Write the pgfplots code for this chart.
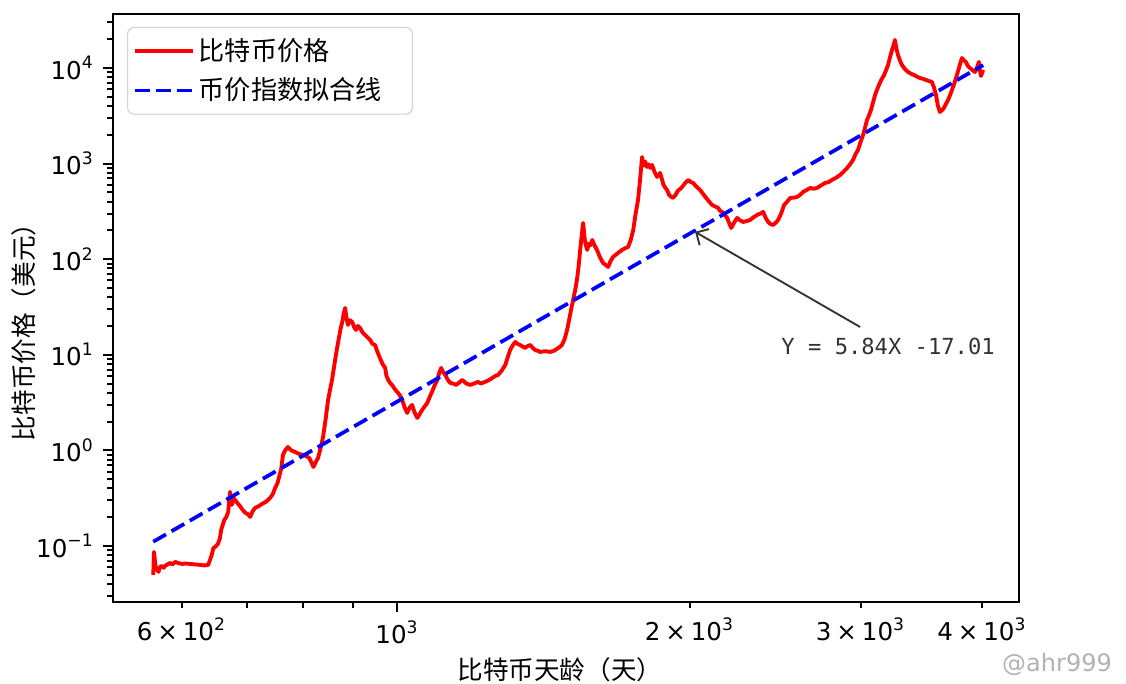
\documentclass[border=0pt]{standalone}
\usepackage{fontspec}
\setmainfont{DejaVu Sans}
\newfontfamily\cjk{Noto Sans CJK SC}
\newfontfamily\mono{DejaVu Sans Mono}
\usepackage{pgfplots}
\pgfplotsset{compat=1.18}
\usetikzlibrary{arrows.meta}

\pgfplotstableread{
x y
561 0.0497
562 0.0865
564 0.0620
565 0.0589
568 0.0535
570 0.0600
572 0.0618
575 0.0590
577 0.0618
580 0.0640
584 0.0664
587 0.0640
591 0.0680
596 0.0660
601 0.0648
606 0.0655
612 0.0648
620 0.0640
627 0.0633
633 0.0625
639 0.0633
644 0.0786
647 0.0953
650 0.0980
654 0.1049
657 0.1200
659 0.1470
662 0.1700
664 0.1871
667 0.2000
670 0.2268
673 0.3672
676 0.2685
679 0.3150
681 0.3029
685 0.2800
689 0.2621
693 0.2400
698 0.2215
702 0.2150
706 0.2011
710 0.2300
714 0.2497
720 0.2600
726 0.2750
733 0.2900
740 0.3177
745 0.3500
749 0.4044
753 0.4500
756 0.5269
760 0.6500
763 0.8953
767 1.000
772 1.085
778 1.000
785 0.9623
792 0.9200
800 0.8953
806 0.8700
812 0.8326
816 0.7500
820 0.6706
825 0.7600
829 0.8326
834 1.050
839 1.381
844 2.100
849 3.367
853 4.300
857 5.450
862 8.000
867 11.50
870 14.00
874 18.17
878 22.00
881 27.00
884 30.87
887 24.00
890 20.50
894 23.00
899 22.03
903 19.50
907 18.17
911 20.00
916 19.07
921 17.20
927 16.11
932 15.20
938 14.28
943 13.00
949 12.66
954 10.80
960 9.26
966 8.000
972 7.275
975 6.000
979 5.450
983 5.100
988 4.832
994 4.400
1000 4.083
1006 3.800
1012 3.367
1018 2.800
1024 2.462
1030 2.800
1036 2.985
1042 2.500
1049 2.182
1055 2.400
1061 2.646
1068 2.900
1074 3.132
1080 3.600
1086 4.083
1093 4.800
1100 5.450
1105 6.500
1110 7.275
1115 6.600
1121 6.147
1127 5.500
1134 5.070
1142 5.000
1150 4.832
1158 5.100
1167 5.450
1178 5.000
1189 4.832
1200 5.000
1211 5.194
1220 5.000
1231 5.194
1242 5.400
1253 5.719
1262 6.000
1270 6.147
1281 6.800
1292 7.819
1300 9.500
1307 11.22
1315 12.50
1323 13.61
1330 13.00
1338 12.66
1346 12.20
1354 11.78
1362 12.30
1371 12.66
1379 11.80
1387 11.22
1395 11.00
1404 10.70
1420 10.90
1437 10.70
1450 11.00
1465 11.78
1472 12.20
1478 12.66
1487 14.50
1496 18.17
1503 23.00
1510 29.42
1518 38.00
1525 47.61
1531 60.00
1536 77.10
1540 100.0
1543 124.8
1549 180.0
1554 239.2
1560 160.0
1564 140.0
1569 124.8
1575 145.0
1581 140.0
1588 158.8
1596 140.0
1606 124.8
1617 105.0
1629 91.26
1639 87.00
1649 82.86
1658 95.00
1668 105.4
1686 115.0
1704 124.8
1716 130.0
1729 134.2
1740 160.0
1750 202.1
1760 300.0
1770 416.0
1779 700.0
1787 1172
1793 950.0
1800 1050
1808 921.3
1815 980.0
1822 900.0
1830 966.9
1840 820.0
1852 724.2
1858 760.0
1865 797.4
1872 700.0
1880 600.0
1888 560.0
1896 529.4
1905 470.0
1914 450.0
1923 436.8
1935 470.0
1945 520.0
1955 540.0
1965 569.1
1978 620.0
1993 673.8
2005 640.0
2017 626.8
2030 580.0
2050 529.4
2065 480.0
2080 436.8
2095 400.0
2109 368.8
2125 355.0
2140 343.3
2150 320.0
2160 311.7
2173 290.0
2186 269.8
2196 240.0
2207 212.1
2222 240.0
2238 269.8
2254 255.0
2270 245.0
2290 250.0
2308 257.0
2328 275.0
2347 290.0
2365 300.0
2381 311.7
2395 270.0
2409 245.0
2424 232.0
2438 227.9
2452 240.0
2467 257.0
2484 300.0
2502 368.8
2520 400.0
2538 436.8
2560 440.0
2580 447.3
2598 470.0
2617 504.6
2640 530.0
2661 555.6
2683 545.0
2705 555.6
2730 590.0
2757 626.8
2780 640.0
2803 673.8
2830 710.0
2857 760.1
2880 820.0
2905 899.5
2925 980.0
2946 1091
2963 1250
2981 1388
3000 1700
3017 1992
3032 2400
3045 2858
3060 3200
3074 3637
3090 4400
3104 5219
3120 6000
3133 6641
3150 7500
3171 8450
3186 9500
3201 10750
3216 13000
3231 15430
3244 17500
3254 19640
3265 16000
3277 13680
3292 12000
3308 10750
3330 9800
3356 9082
3380 8700
3404 8450
3428 8100
3452 7861
3477 7700
3502 7489
3527 7300
3552 7137
3570 6200
3586 5219
3603 4000
3620 3464
3637 3600
3654 3815
3672 4200
3690 4627
3708 5200
3725 5888
3747 7000
3769 8450
3792 10500
3814 12720
3832 12000
3850 11560
3868 10500
3887 10000
3910 9500
3933 9082
3952 10000
3970 11560
3980 9500
3989 8250
4000 8800
4009 9530
}\pricedata

\begin{document}
\begin{tikzpicture}
\path[use as bounding box] (-42.375pt,-30.75pt) rectangle (379.875pt,225.75pt);
\begin{axis}[
  xmode=log, ymode=log,
  scale only axis, width=339.75pt, height=220.5pt,
  xmin=510, xmax=4366, ymin=0.0259, ymax=36700,
  axis line style={line width=0.75pt},
  every tick/.style={black, line width=0.75pt},
  tick align=outside, tick pos=left,
  major tick length=3.6pt, minor tick length=2.2pt,
  xtick={1000}, xticklabels={10\textsuperscript{3}},
  extra x ticks={600,2000,3000,4000},
  extra x tick labels={6\hspace{0.2em}×\hspace{0.2em}10\textsuperscript{2},2\hspace{0.2em}×\hspace{0.2em}10\textsuperscript{3},3\hspace{0.2em}×\hspace{0.2em}10\textsuperscript{3},4\hspace{0.2em}×\hspace{0.2em}10\textsuperscript{3}},
  extra x tick style={major tick length=2.2pt},
  minor xtick={700,800,900},
  ytick={0.1,1,10,100,1000,10000},
  yticklabels={10\textsuperscript{−1},10\textsuperscript{0},10\textsuperscript{1},10\textsuperscript{2},10\textsuperscript{3},10\textsuperscript{4}},
  minor ytick={0.03,0.04,0.05,0.06,0.07,0.08,0.09,0.2,0.3,0.4,0.5,0.6,0.7,0.8,0.9,2,3,4,5,6,7,8,9,20,30,40,50,60,70,80,90,200,300,400,500,600,700,800,900,2000,3000,4000,5000,6000,7000,8000,9000,20000,30000},
  tick label style={font=\fontsize{9.2}{10}\selectfont},
  legend style={at={(0.0155,0.978)}, anchor=north west, draw=black!18, rounded corners=2.5pt,
    fill=white, inner xsep=2pt, inner ysep=2.5pt, row sep=2pt,
    font=\cjk\fontsize{9.8}{11}\selectfont, nodes={inner sep=1.5pt}},
  legend cell align=left,
  legend image code/.code={\draw[#1] (0pt,0pt) -- (21.75pt,0pt);},
]
\addplot[red, line width=1.45pt, line join=round] table[x=x,y=y] {\pricedata};
\addlegendentry{比特币价格}
\addplot[blue, line width=1.4pt, dash pattern=on 5.5pt off 2.4pt] coordinates {(561,0.1107) (4010,10715)};
\addlegendentry{币价指数拟合线\rule{8pt}{0pt}}
\draw[black!80, line width=0.7pt, -{Straight Barb[length=3.5pt,width=7pt]}] (axis cs:2996,19.5) -- (axis cs:2026,193);
\node[font=\mono\fontsize{8.3}{10}\selectfont, text=black!80] at (axis cs:3201,12.07) {Y = 5.84X -17.01};
\end{axis}
\node[font=\cjk\fontsize{9.6}{11}\selectfont] at (167.6pt,-25.5pt) {比特币天龄（天）};
\node[font=\cjk\fontsize{9.6}{11}\selectfont, rotate=90] at (-33.4pt,103.5pt) {比特币价格（美元）};
\node[font=\fontsize{9}{10}\selectfont, text=black!30] at (354pt,-23.6pt) {@ahr999};
\end{tikzpicture}
\end{document}
